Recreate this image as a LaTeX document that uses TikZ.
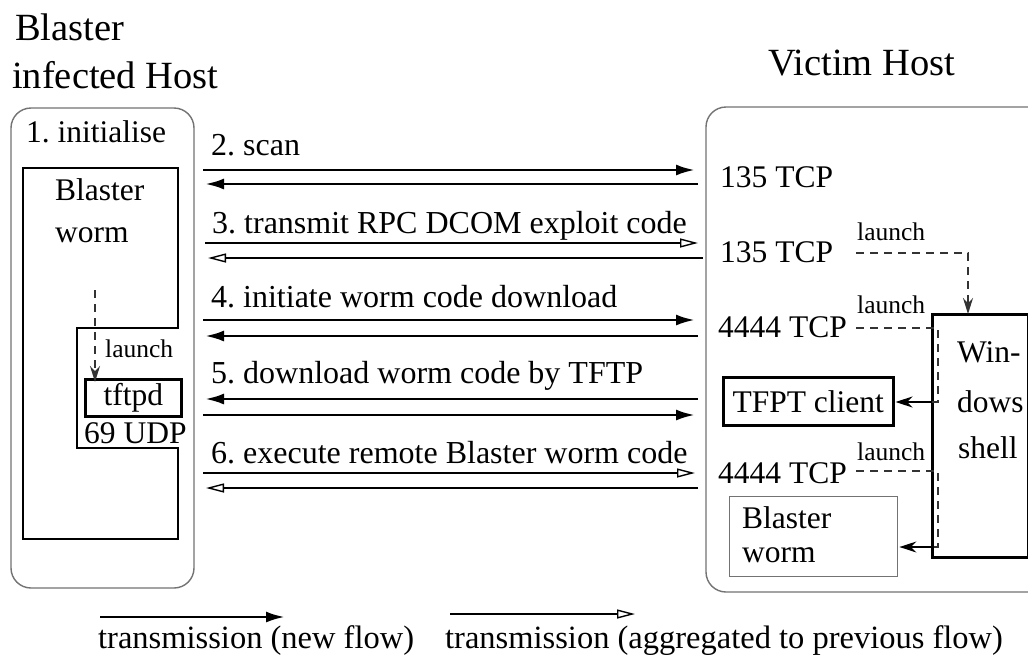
\documentclass[tikz,border=0pt]{standalone}
\usepackage{fontspec}
\setmainfont{Liberation Serif}
\usetikzlibrary{arrows.meta}
\frenchspacing
\begin{document}
\begin{tikzpicture}[x=1pt,y=-1pt,
  txt/.style={inner sep=0pt, anchor=base west, font=\fontsize{31.5}{36}\selectfont},
  lbl/.style={inner sep=0pt, anchor=base west, font=\fontsize{32}{36}\selectfont},
  ttl/.style={inner sep=0pt, anchor=base west, font=\fontsize{38.5}{44}\selectfont},
  small/.style={inner sep=0pt, anchor=base west, font=\fontsize{25.5}{30}\selectfont},
  leg/.style={inner sep=0pt, anchor=base west, font=\fontsize{32.5}{38}\selectfont},
  host/.style={draw=black!55, line width=1.4pt, rounded corners=20pt},
  blk/.style={draw=black, line width=2.5pt},
  graybox/.style={draw=black!55, line width=1.4pt},
  newflow/.style={line width=2.8pt, -{Latex[length=19pt,width=11pt]}},
  aggflow/.style={line width=2.8pt, -{Triangle[open,length=18pt,width=9pt,line width=1.4pt]}},
  launchline/.style={line width=1.4pt, dash pattern=on 8pt off 6pt, draw=black!80},
  launchtip/.style={-{Stealth[length=16pt,width=10pt]}},
  shelltip/.style={line width=1.6pt, -{Stealth[length=17pt,width=11pt]}}
]
\useasboundingbox[fill=white] (0,0) rectangle (1028,656);

% titles
\node[ttl] (t1) at (15,40) {Blaster};
\node[ttl] (t2) at (12,88) {infected Host};
\node[ttl] (t3) at (768,75) {Victim Host};

% host boxes
\draw[host] (11,108) rectangle (194,588);
\draw[host] (706,107) rectangle (1060,592);

% left side
\node[txt] (init) at (26,142) {1. initialise};
\draw[blk] (23,168) -- (178,168) -- (178,328) -- (77,328) -- (77,448) -- (178,448) -- (178,539) -- (23,539) -- cycle;
\node[txt] (bw1) at (55,200) {Blaster};
\node[txt] (bw2) at (55,242) {worm};
\node[blk, anchor=north west, minimum width=96pt, minimum height=37pt, inner sep=0pt,
      font=\fontsize{31.5}{36}\selectfont] (tftpd) at (84,378) {tftpd};
\node[small] (launchA) at (105,357) {launch};
\node[txt] (udp) at (84,443) {69 UDP};
\coordinate (lsA) at (95,290);
\draw[launchline, launchtip] (lsA) -- ([yshift=-4pt]tftpd.north -| lsA);

% right side
\node[txt] (p1) at (720,187) {135 TCP};
\node[txt] (p2) at (720,262) {135 TCP};
\node[txt] (p3) at (718,337) {4444 TCP};
\node[txt] (p4) at (718,483) {4444 TCP};
\node[small] (launchB) at (857,240) {launch};
\node[small] (launchC) at (857,313) {launch};
\node[small] (launchD) at (857,460) {launch};

\node[blk, anchor=north west, minimum width=170pt, minimum height=48pt, inner sep=0pt,
      font=\fontsize{31.5}{36}\selectfont] (tftpc) at (722,376) {TFPT client};
\node[blk, anchor=north west, minimum width=96pt, minimum height=243pt, inner sep=0pt] (shell) at (931,313) {};
\node[txt] (sh1) at (957,362) {Win-};
\node[txt] (sh2) at (957,412) {dows};
\node[txt] (sh3) at (958,458) {shell};
\node[graybox, anchor=north west, minimum width=168pt, minimum height=80pt, inner sep=0pt] (rworm) at (729,496) {};
\node[txt] (rw1) at (742,528) {Blaster};
\node[txt] (rw2) at (742,562) {worm};

% launch connectors on victim
\coordinate (lb0) at (856,253);
\coordinate (lb1) at (968,253);
\draw[launchline, launchtip] (lb0) -- (lb1) -- ([yshift=-1pt]lb1 |- shell.north);

\coordinate (lc0) at (856,328);
\coordinate (lc1) at (938,328);
\coordinate (lc2) at (938,402);
\coordinate (lc3) at (931,402);
\draw[launchline] (lc0) -- (lc1) -- (lc2) -- (lc3);
\draw[shelltip] (lc3) -- ([xshift=1pt]tftpc.east |- lc3);

\coordinate (ld0) at (856,471);
\coordinate (ld1) at (938,471);
\coordinate (ld2) at (938,547);
\coordinate (ld3) at (931,547);
\draw[launchline] (ld0) -- (ld1) -- (ld2) -- (ld3);
\draw[shelltip] (ld3) -- ([xshift=1pt]rworm.east |- ld3);

% transmission arrows
\node[lbl] (m2) at (211,155) {2. scan};
\node[lbl] (m3) at (212,233) {3. transmit RPC DCOM exploit code};
\node[lbl] (m4) at (211,307) {4. initiate worm code download};
\node[lbl] (m5) at (211,383) {5. download worm code by TFTP};
\node[lbl] (m6) at (211,463) {6. execute remote Blaster worm code};

\coordinate (a2s) at (203,170); \coordinate (a2e) at (695,170);
\coordinate (b2s) at (698,184); \coordinate (b2e) at (205,184);
\coordinate (a3s) at (205,243); \coordinate (a3e) at (698,243);
\coordinate (b3s) at (703,258); \coordinate (b3e) at (208,258);
\coordinate (a4s) at (203,320); \coordinate (a4e) at (695,320);
\coordinate (b4s) at (698,336); \coordinate (b4e) at (205,336);
\coordinate (b5s) at (698,399); \coordinate (b5e) at (205,399);
\coordinate (a5s) at (203,415); \coordinate (a5e) at (695,415);
\coordinate (a6s) at (203,473); \coordinate (a6e) at (695,473);
\coordinate (b6s) at (698,488); \coordinate (b6e) at (206,488);

\draw[newflow] (a2s) -- (a2e);
\draw[newflow] (b2s) -- (b2e);
\draw[aggflow] (a3s) -- (a3e);
\draw[aggflow] (b3s) -- (b3e);
\draw[newflow] (a4s) -- (a4e);
\draw[newflow] (b4s) -- (b4e);
\draw[newflow] (b5s) -- (b5e);
\draw[newflow] (a5s) -- (a5e);
\draw[aggflow] (a6s) -- (a6e);
\draw[aggflow] (b6s) -- (b6e);

% legend
\coordinate (l1s) at (100,617); \coordinate (l1e) at (285,617);
\coordinate (l2s) at (450,614); \coordinate (l2e) at (635,614);
\draw[newflow] (l1s) -- (l1e);
\draw[aggflow] (l2s) -- (l2e);
\node[leg] (leg1) at (98,648) {transmission (new flow)};
\node[leg] (leg2) at (445,648) {transmission (aggregated to previous flow)};
\end{tikzpicture}
\end{document}
